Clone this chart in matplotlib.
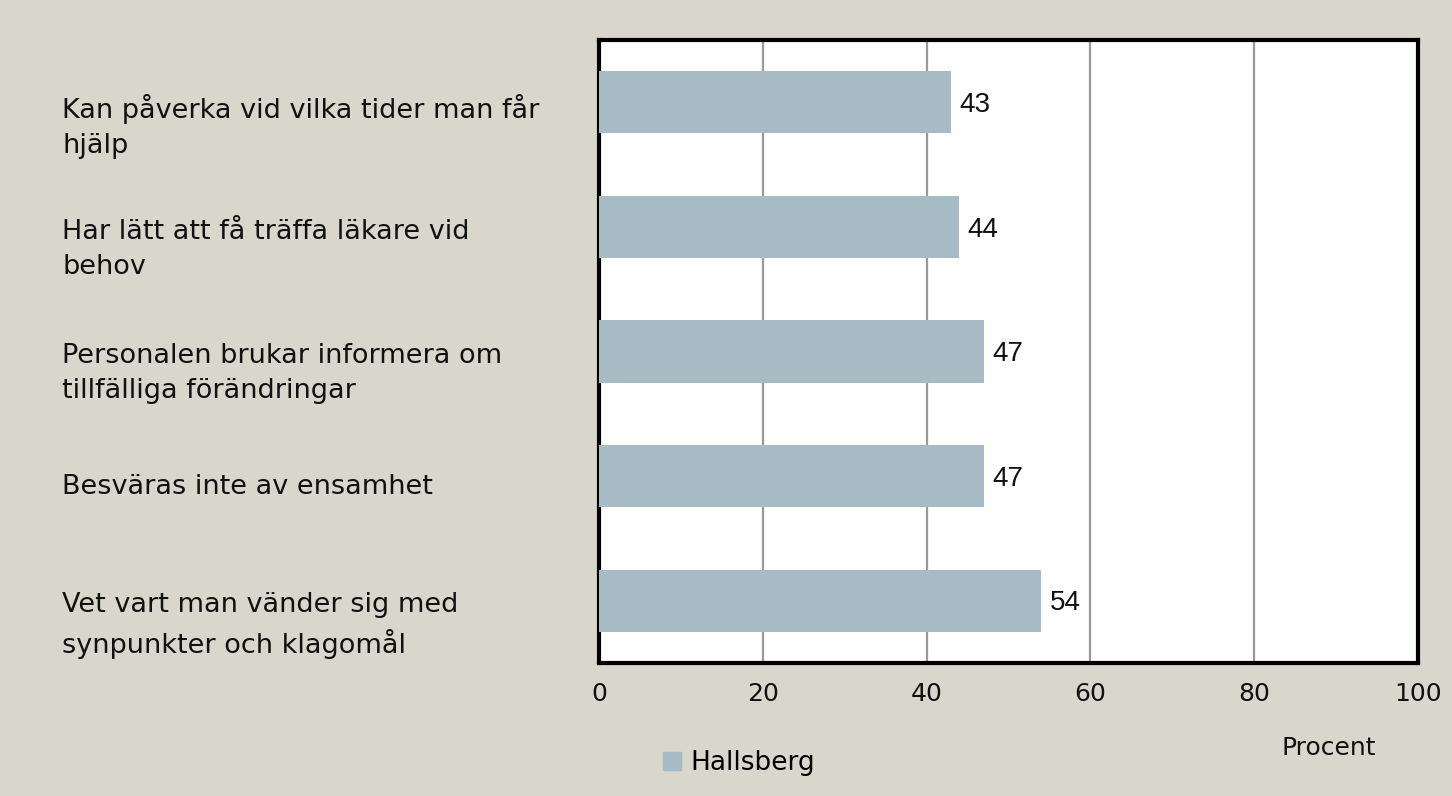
import matplotlib
matplotlib.use("Agg")
import matplotlib.pyplot as plt
from matplotlib.lines import Line2D
from matplotlib.transforms import blended_transform_factory

categories = [
    "Kan påverka vid vilka tider man får\nhjälp",
    "Har lätt att få träffa läkare vid\nbehov",
    "Personalen brukar informera om\ntillfälliga förändringar",
    "Besväras inte av ensamhet",
    "Vet vart man vänder sig med\nsynpunkter och klagomål",
]
values = [43, 44, 47, 47, 54]
xticks = [0, 20, 40, 60, 80, 100]
series_name = "Hallsberg"
xlabel = "Procent"

bg = "#D9D7CB"
bar_color = "#A7BBC5"
font = "DejaVu Sans"

fig = plt.figure(figsize=(14.52, 7.96), dpi=100, facecolor=bg)
ax = fig.add_axes([0.4125, 0.1671, 0.5641, 0.7826])
ax.set_facecolor("white")

pos = list(range(len(categories)))
ax.barh(pos, values, height=0.5, color=bar_color, zorder=3)
ax.set_ylim(len(categories) - 0.5, -0.5)
ax.set_xlim(0, 100)

ax.set_xticks(xticks)
ax.set_xticklabels([str(t) for t in xticks], fontsize=18, family=font, color="#111111")
ax.tick_params(axis="x", length=0, pad=14)
ax.set_yticks([])
ax.grid(axis="x", color="#999999", linewidth=1.6, zorder=1)
for s in ax.spines.values():
    s.set_linewidth(3)
    s.set_color("black")

for p, v in zip(pos, values):
    ax.annotate(str(v), xy=(v, p), xytext=(6, -2), textcoords="offset points",
                va="center", ha="left", fontsize=20, family="Liberation Sans",
                color="#111111", zorder=4)

trans = blended_transform_factory(fig.transFigure, ax.transData)
for p, c in zip(pos, categories):
    if "\n" in c:
        ax.annotate(c, xy=(0.0427, p), xycoords=trans, xytext=(0, 6),
                    textcoords="offset points", va="top", ha="left",
                    fontsize=19.5, family=font, color="#111111", linespacing=1.45,
                    annotation_clip=False)
    else:
        ax.annotate(c, xy=(0.0427, p), xycoords=trans, xytext=(0, -8),
                    textcoords="offset points", va="center", ha="left",
                    fontsize=19.5, family=font, color="#111111",
                    annotation_clip=False)

handle = Line2D([], [], marker="s", linestyle="", color=bar_color, markersize=13)
fig.legend([handle], [series_name], loc="center left",
           bbox_to_anchor=(661 / 1452, 1 - 763 / 796), frameon=False,
           prop={"family": font, "size": 19}, handlelength=0.8,
           handletextpad=0.3, borderpad=0, borderaxespad=0)

fig.text(1329 / 1452, 1 - 748 / 796, xlabel, ha="center", va="center",
         fontsize=18, family=font, color="#111111")

fig.savefig("out.png", dpi=100, facecolor=bg)
